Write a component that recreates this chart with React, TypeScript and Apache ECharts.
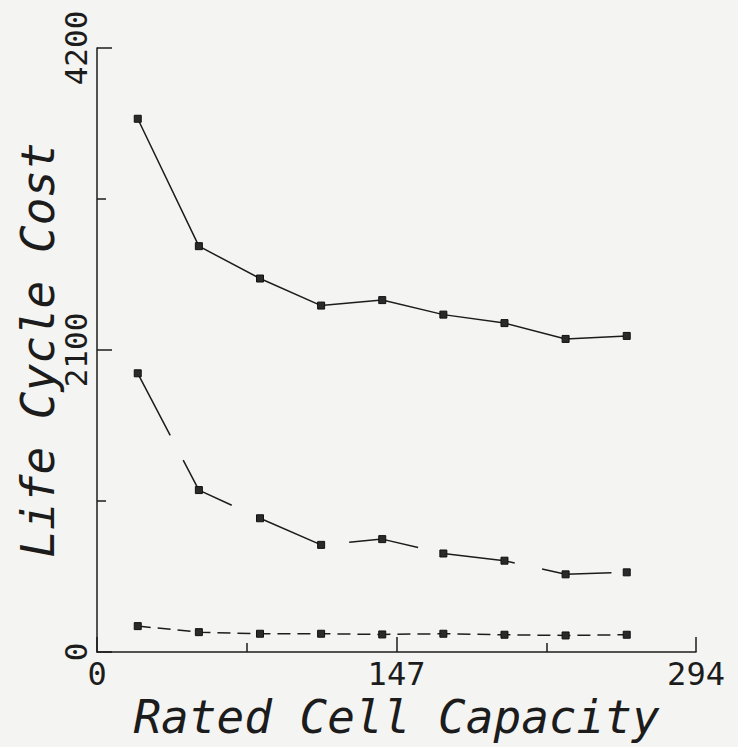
import React, { useEffect, useRef } from 'react';
import * as echarts from 'echarts';

const capacity = [20, 50, 80, 110, 140, 170, 200, 230, 260];
const costUpper = [3708, 2822, 2597, 2409, 2447, 2346, 2287, 2177, 2198];
const costMiddle = [1938, 1126, 930, 745, 785, 685, 635, 540, 554];
const costLower = [180, 138, 127, 127, 122, 127, 120, 115, 120];
const xTicks = [0, 147, 294];
const yTicks = [0, 2100, 4200];

const INK = '#1c1c1c';
const FONT = '"DejaVu Sans Mono", "Liberation Mono", monospace';

export default function App() {
  const ref = useRef<HTMLDivElement>(null);
  useEffect(() => {
    const chart = echarts.init(ref.current!, null, { renderer: 'svg' });
    const mk = (vals: number[], dash: any) => ({
      type: 'line',
      data: capacity.map((x, i) => [x, vals[i]]),
      symbol: 'rect',
      symbolSize: 7,
      lineStyle: { color: INK, width: 1.5, type: dash },
      itemStyle: { color: '#2a2a2a', borderColor: '#111', borderWidth: 1 },
      z: 3,
    });
    chart.setOption({
      animation: false,
      backgroundColor: '#f4f4f2',
      grid: { left: 97, right: 42, top: 48, bottom: 95 },
      xAxis: {
        type: 'value',
        min: xTicks[0],
        max: xTicks[2],
        interval: xTicks[1] - xTicks[0],
        name: 'Rated Cell Capacity',
        nameLocation: 'middle',
        nameGap: 42,
        nameMoveOverlap: false,
        nameTextStyle: { fontFamily: FONT, fontSize: 46, fontStyle: 'italic', color: INK },
        axisLine: { lineStyle: { color: INK, width: 1.5 } },
        axisTick: { inside: true, length: 15, lineStyle: { color: INK, width: 1.5 } },
        minorTick: { show: true, splitNumber: 2, length: 9, lineStyle: { color: INK, width: 1.5 } },
        splitLine: { show: false },
        axisLabel: { fontFamily: FONT, fontSize: 32, color: INK, margin: 6, formatter: (v: number) => String(v) },
      },
      yAxis: {
        type: 'value',
        min: yTicks[0],
        max: yTicks[2],
        interval: yTicks[1] - yTicks[0],
        name: 'Life Cycle Cost',
        nameLocation: 'middle',
        nameRotate: 90,
        nameGap: 36,
        nameMoveOverlap: false,
        nameTextStyle: { fontFamily: FONT, fontSize: 46, fontStyle: 'italic', color: INK },
        axisLine: { lineStyle: { color: INK, width: 1.5 } },
        axisTick: { inside: true, length: 15, lineStyle: { color: INK, width: 1.5 } },
        minorTick: { show: true, splitNumber: 2, length: 9, lineStyle: { color: INK, width: 1.5 } },
        splitLine: { show: false },
        axisLabel: { fontFamily: FONT, fontSize: 31, color: INK, rotate: 90, margin: 6, formatter: (v: number) => String(v) },
      },
      series: [mk(costUpper, 'solid'), mk(costMiddle, [70, 28]), mk(costLower, [13, 7])],
    });
    return () => chart.dispose();
  }, []);
  return (
    <div
      ref={ref}
      style={{ position: 'fixed', left: 0, top: 0, width: 738, height: 747 }}
    />
  );
}
